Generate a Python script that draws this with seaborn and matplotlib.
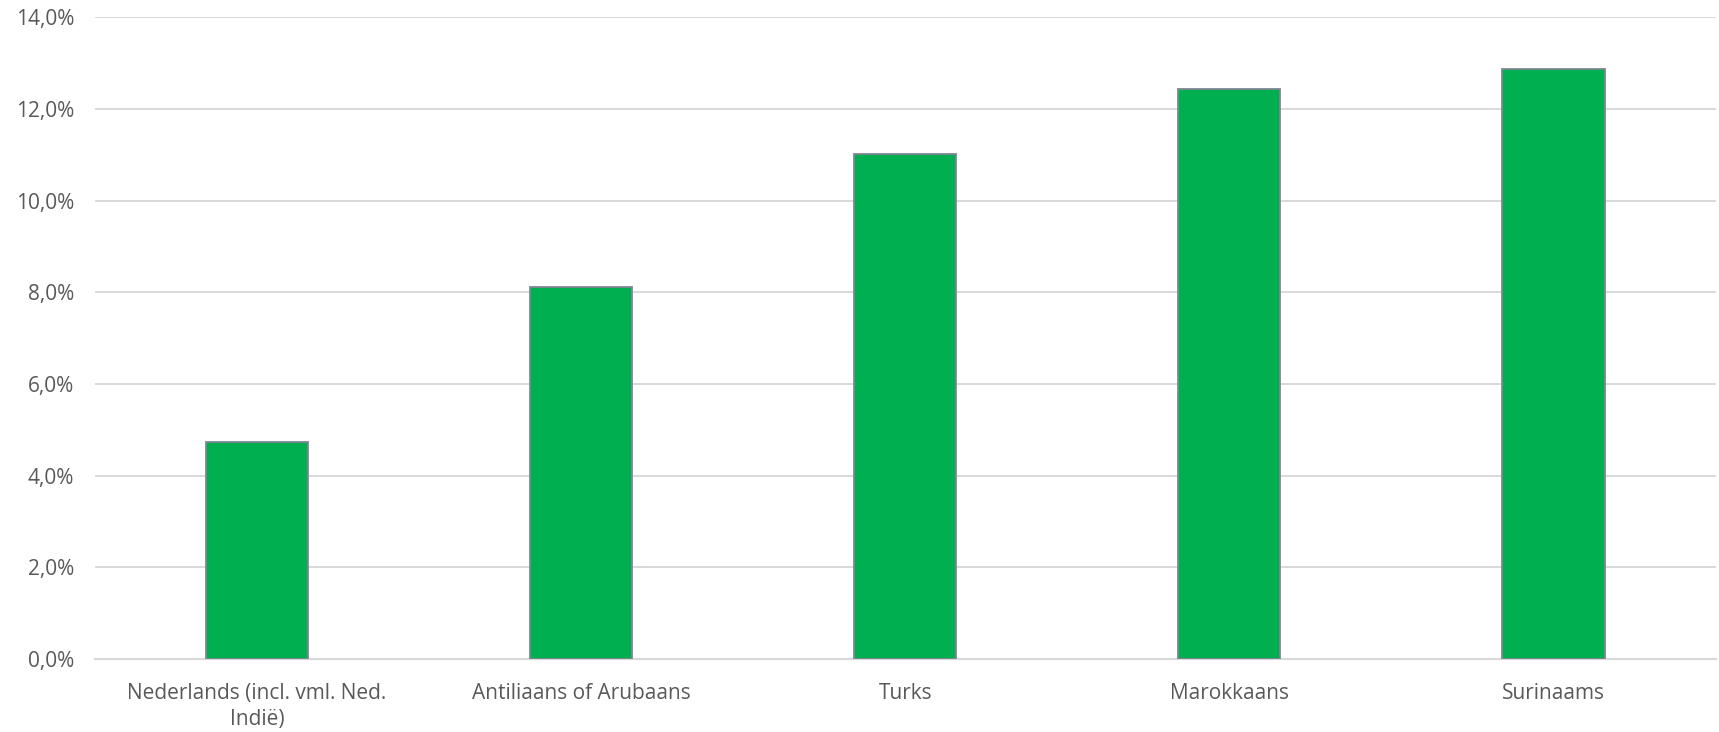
import matplotlib
matplotlib.use("Agg")
import matplotlib.pyplot as plt
import seaborn as sns
import pandas as pd
from matplotlib.ticker import FuncFormatter, MultipleLocator

# Data
categories = ["Nederlands (incl. vml. Ned.\nIndië)", "Antiliaans of Arubaans",
              "Turks", "Marokkaans", "Surinaams"]
values = [4.74, 8.12, 11.02, 12.43, 12.88]

df = pd.DataFrame({"herkomst": categories, "aandeel": values})

sns.set_style("white")
plt.rcParams['font.family'] = ['Open Sans', 'DejaVu Sans']

fig = plt.figure(figsize=(17.19, 7.32), dpi=100)
ax = fig.add_axes([0.0553, 0.0997, 0.9427, 0.8764])

sns.barplot(data=df, x="herkomst", y="aandeel", color="#00B050", width=0.315,
            edgecolor="#7f8793", linewidth=1.3, saturation=1, ax=ax, zorder=3)

ax.set_ylim(0, 14)
ax.set_xlim(-0.5, len(categories) - 0.5)
ax.yaxis.set_major_locator(MultipleLocator(2))
ax.yaxis.set_major_formatter(FuncFormatter(lambda v, p: f"{v:.1f}%".replace(".", ",")))
ax.grid(axis="y", color="#d9d9d9", linewidth=1.4, zorder=0)
ax.set_axisbelow(True)

for side in ["top", "right", "left"]:
    ax.spines[side].set_visible(False)
ax.spines["bottom"].set_color("#d9d9d9")
ax.spines["bottom"].set_linewidth(1.6)

ax.set_xlabel("")
ax.set_ylabel("")
ax.tick_params(axis="y", length=0, pad=15, labelsize=15, labelcolor="#595959")
ax.tick_params(axis="x", length=0, pad=17, labelsize=15, labelcolor="#595959")
for lbl in ax.get_xticklabels():
    lbl.set_linespacing(1.35)

plt.savefig("out.png", dpi=100)
